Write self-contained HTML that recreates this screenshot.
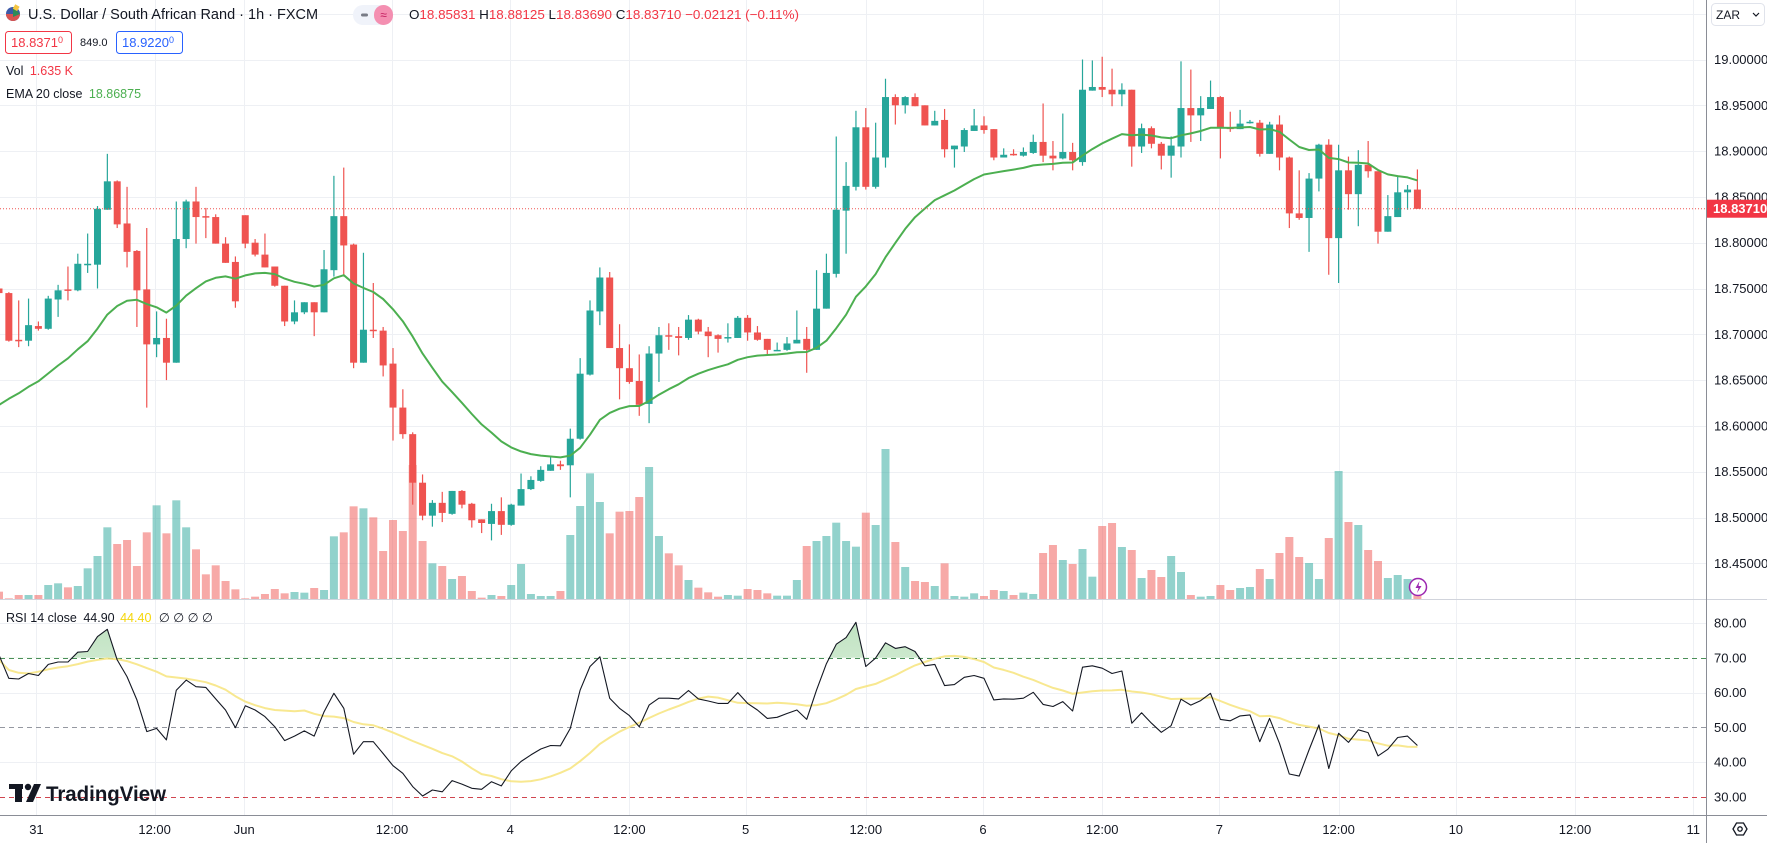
<!DOCTYPE html>
<html><head><meta charset="utf-8"><title>USDZAR 1h</title>
<style>
html,body{margin:0;padding:0;background:#fff;}
svg{display:block;font-family:"Liberation Sans",Arial,sans-serif;}
</style></head>
<body>
<svg id="chart" width="1767" height="843" viewBox="0 0 1767 843" xmlns="http://www.w3.org/2000/svg">
  <defs>
    <linearGradient id="obGrad" x1="0" y1="0" x2="0" y2="1">
      <stop offset="0" stop-color="#4caf50" stop-opacity="0.35"/>
      <stop offset="1" stop-color="#4caf50" stop-opacity="0.03"/>
    </linearGradient>
    <linearGradient id="osGrad" x1="0" y1="0" x2="0" y2="1">
      <stop offset="0" stop-color="#f23645" stop-opacity="0.03"/>
      <stop offset="1" stop-color="#f23645" stop-opacity="0.3"/>
    </linearGradient>
    <clipPath id="mainClip"><rect x="0" y="0" width="1706" height="599"/></clipPath>
    <clipPath id="obClip"><rect x="0" y="600" width="1706" height="58"/></clipPath>
    <clipPath id="osClip"><rect x="0" y="797" width="1706" height="18"/></clipPath>
  </defs>
  <g id="grid"></g>
  <g id="volume" clip-path="url(#mainClip)"></g>
  <g id="candles" clip-path="url(#mainClip)"></g>
  <g id="ema"></g>
  <g id="rsi"></g>
  <g id="axes"></g>

  <!-- header -->
  <g>
    <g>
      <circle cx="13" cy="14" r="7" fill="#3c5aa8"/>
      <path d="M6,14 a7,7 0 0 0 14,0 z" fill="#d9534f"/>
      <path d="M13,7 l7,7 l-7,3 z" fill="#2e8b57"/>
      <rect x="14" y="5" width="5" height="5" fill="#f5c542" transform="rotate(30 16 7)"/>
    </g>
    <text x="28" y="19" font-size="14.5" fill="#131722">U.S. Dollar / South African Rand · 1h · FXCM</text>
    <g>
      <rect x="353" y="5" width="40" height="20" rx="10" fill="#f0f3fa"/>
      <rect x="374" y="5" width="19" height="20" rx="9.5" fill="#f48fb1"/>
      <rect x="361" y="13.5" width="7" height="3" rx="1.5" fill="#787b86"/>
      <text x="383.5" y="19" font-size="12" fill="#c2185b" text-anchor="middle">≈</text>
    </g>
    <text x="409" y="19" font-size="13" fill="#f23645" textLength="390" lengthAdjust="spacingAndGlyphs"><tspan fill="#131722">O</tspan>18.85831 <tspan fill="#131722">H</tspan>18.88125 <tspan fill="#131722">L</tspan>18.83690 <tspan fill="#131722">C</tspan>18.83710 −0.02121 (−0.11%)</text>
    <g>
      <rect x="5.5" y="31.5" width="66" height="22" rx="3" fill="#fff" stroke="#f23645"/>
      <text x="11" y="47" font-size="13" fill="#f23645">18.8371<tspan font-size="9" dy="-4">0</tspan></text>
    </g>
    <text x="80" y="46" font-size="11" fill="#131722">849.0</text>
    <g>
      <rect x="116.5" y="31.5" width="66" height="22" rx="3" fill="#fff" stroke="#2962ff"/>
      <text x="122" y="47" font-size="13" fill="#2962ff">18.9220<tspan font-size="9" dy="-4">0</tspan></text>
    </g>
    <text x="6" y="75" font-size="12.5" fill="#131722">Vol <tspan fill="#f23645" dx="3">1.635 K</tspan></text>
    <text x="6" y="98" font-size="12.5" fill="#131722">EMA 20 close <tspan fill="#4caf50" dx="3">18.86875</tspan></text>
    <text x="6" y="622" font-size="12.5" fill="#131722">RSI 14 close <tspan dx="3">44.90</tspan> <tspan fill="#f5d60a" dx="2">44.40</tspan> <tspan dx="4">∅</tspan> <tspan>∅</tspan> <tspan>∅</tspan> <tspan>∅</tspan></text>
  </g>

  <g>
    <rect x="9" y="784" width="14" height="5" fill="#131722"/>
    <rect x="15" y="784" width="7" height="18" fill="#131722"/>
    <circle cx="28" cy="787" r="3.2" fill="#131722"/>
    <polygon points="34,784 41,784 33,802 26,802" fill="#131722"/>
    <text x="46" y="801" font-size="21" font-weight="bold" fill="#131722" textLength="120" lengthAdjust="spacingAndGlyphs">TradingView</text>
  </g>

  <g>
    <circle cx="1418" cy="587" r="8.5" fill="#fff" stroke="#9c27b0" stroke-width="1.5"/>
    <path d="M1419.5,581 l-4,7 h3 l-1.5,5 l4.5,-7 h-3 z" fill="#9c27b0"/>
  </g>

  <g>
    <rect x="1711.5" y="3.5" width="53" height="22" rx="4" fill="#fff" stroke="#e0e3eb"/>
    <text x="1716" y="19" font-size="12" fill="#131722">ZAR</text>
    <path d="M1753,13 l3,3 l3,-3" fill="none" stroke="#131722" stroke-width="1.2"/>
  </g>
  <g>
    <polygon points="1733,829 1736.5,823 1743.5,823 1747,829 1743.5,835 1736.5,835" fill="none" stroke="#131722" stroke-width="1.3"/>
    <circle cx="1740" cy="829" r="2.2" fill="none" stroke="#131722" stroke-width="1.3"/>
  </g>
</svg>
<script>
// ---------------- data ----------------
const openP = [
18.750,18.745,18.694,18.693,18.709,18.706,18.738,18.749,18.748,18.776,
18.776,18.836,18.867,18.821,18.791,18.749,18.689,18.696,18.669,18.804,
18.845,18.829,18.828,18.799,18.779,18.830,18.800,18.787,18.774,18.753,
18.714,18.724,18.735,18.724,18.770,18.829,18.798,18.669,18.705,18.704,
18.668,18.620,18.591,18.538,18.502,18.516,18.504,18.529,18.515,18.498,
18.493,18.507,18.492,18.513,18.531,18.540,18.551,18.558,18.557,18.586,
18.656,18.725,18.762,18.685,18.663,18.649,18.624,18.679,18.699,18.698,
18.696,18.716,18.703,18.699,18.696,18.696,18.718,18.702,18.695,18.682,
18.683,18.690,18.695,18.683,18.728,18.766,18.835,18.861,18.926,18.861,
18.893,18.959,18.950,18.959,18.950,18.928,18.934,18.902,18.905,18.922,
18.928,18.924,18.893,18.897,18.895,18.898,18.910,18.895,18.892,18.899,
18.888,18.966,18.970,18.967,18.962,18.967,18.905,18.925,18.908,18.895,
18.905,18.947,18.939,18.946,18.959,18.926,18.924,18.931,18.931,18.897,
18.929,18.893,18.832,18.827,18.870,18.907,18.805,18.879,18.853,18.885,
18.878,18.812,18.828,18.855,18.858];
const highP = [
18.752,18.746,18.737,18.739,18.714,18.742,18.754,18.774,18.788,18.810,
18.840,18.897,18.868,18.861,18.792,18.816,18.725,18.717,18.845,18.847,
18.861,18.838,18.831,18.806,18.785,18.830,18.804,18.810,18.774,18.753,
18.737,18.735,18.735,18.792,18.873,18.882,18.799,18.789,18.756,18.708,
18.685,18.640,18.593,18.547,18.519,18.528,18.529,18.530,18.516,18.498,
18.515,18.522,18.515,18.548,18.545,18.556,18.566,18.562,18.597,18.674,
18.737,18.773,18.768,18.711,18.689,18.678,18.687,18.708,18.712,18.708,
18.721,18.717,18.708,18.700,18.712,18.720,18.721,18.709,18.695,18.691,
18.697,18.726,18.708,18.770,18.788,18.916,18.888,18.944,18.947,18.931,
18.979,18.962,18.960,18.963,18.950,18.944,18.946,18.906,18.925,18.946,
18.938,18.924,18.903,18.902,18.904,18.918,18.952,18.911,18.941,18.909,
19.000,18.999,19.003,18.990,18.974,18.967,18.930,18.927,18.910,18.916,
18.998,18.989,18.960,18.977,18.960,18.943,18.945,18.934,18.934,18.932,
18.939,18.894,18.879,18.876,18.908,18.913,18.907,18.894,18.901,18.911,
18.878,18.852,18.872,18.863,18.880];
const lowP = [
18.744,18.692,18.686,18.687,18.704,18.705,18.719,18.737,18.747,18.767,
18.750,18.836,18.816,18.773,18.708,18.620,18.675,18.650,18.669,18.794,
18.799,18.805,18.799,18.778,18.729,18.794,18.785,18.773,18.752,18.709,
18.711,18.722,18.698,18.724,18.763,18.763,18.663,18.669,18.696,18.654,
18.584,18.586,18.514,18.497,18.490,18.495,18.503,18.510,18.489,18.483,
18.475,18.481,18.491,18.513,18.530,18.539,18.551,18.552,18.522,18.585,
18.655,18.710,18.685,18.629,18.646,18.611,18.603,18.648,18.683,18.677,
18.694,18.700,18.675,18.680,18.691,18.696,18.693,18.693,18.677,18.682,
18.682,18.690,18.658,18.683,18.728,18.762,18.788,18.857,18.858,18.859,
18.882,18.929,18.941,18.949,18.928,18.928,18.893,18.882,18.899,18.922,
18.919,18.890,18.893,18.895,18.894,18.897,18.888,18.879,18.891,18.879,
18.884,18.966,18.959,18.949,18.949,18.883,18.898,18.903,18.880,18.871,
18.893,18.910,18.911,18.946,18.892,18.921,18.924,18.930,18.894,18.897,
18.879,18.816,18.825,18.790,18.856,18.765,18.756,18.836,18.818,18.871,
18.799,18.812,18.828,18.836,18.837];
const closeP = [
18.745,18.693,18.693,18.710,18.706,18.739,18.748,18.748,18.777,18.777,
18.837,18.867,18.820,18.790,18.748,18.689,18.696,18.669,18.804,18.845,
18.828,18.828,18.799,18.778,18.736,18.799,18.787,18.773,18.753,18.714,
18.724,18.735,18.724,18.771,18.829,18.797,18.669,18.705,18.704,18.666,
18.620,18.591,18.538,18.502,18.516,18.505,18.529,18.514,18.497,18.494,
18.507,18.492,18.514,18.531,18.541,18.552,18.558,18.556,18.586,18.657,
18.726,18.762,18.685,18.663,18.648,18.623,18.679,18.699,18.698,18.696,
18.716,18.703,18.698,18.695,18.697,18.718,18.702,18.694,18.683,18.683,
18.690,18.694,18.683,18.728,18.767,18.836,18.862,18.926,18.861,18.893,
18.959,18.950,18.959,18.949,18.928,18.933,18.902,18.906,18.923,18.928,
18.923,18.893,18.896,18.896,18.899,18.910,18.895,18.892,18.899,18.890,
18.967,18.970,18.967,18.962,18.967,18.905,18.925,18.908,18.895,18.906,
18.947,18.939,18.947,18.959,18.925,18.924,18.930,18.932,18.897,18.929,
18.893,18.832,18.827,18.870,18.907,18.805,18.879,18.853,18.885,18.878,
18.812,18.829,18.855,18.858,18.837];
const volumeK = [
2.5,0.5,1.5,1.5,1.5,4.5,5.0,3.8,4.2,9.5,
13.2,21.8,16.8,18.0,10.2,20.3,28.4,20.0,29.9,21.8,
15.2,7.7,10.4,5.7,3.2,0.5,1.0,1.8,3.3,2.0,
2.4,2.2,3.6,3.0,19.1,20.3,28.1,27.5,24.8,14.7,
24.0,20.7,40.5,17.7,11.0,10.2,6.3,7.2,2.7,0.7,
1.5,1.2,4.5,10.8,1.8,1.2,1.2,2.7,19.5,28.2,
38.0,29.4,20.0,26.5,26.7,30.9,39.9,19.2,14.0,10.4,
6.0,3.7,2.3,1.0,1.5,1.3,3.3,3.0,2.0,1.3,
1.3,6.0,16.2,17.7,19.2,23.2,17.7,16.0,26.2,22.5,
45.3,17.4,9.9,5.7,5.4,4.2,11.0,1.2,1.0,2.0,
1.2,3.0,2.7,1.5,2.2,1.8,14.1,16.5,12.0,10.8,
15.3,7.0,22.2,23.1,15.9,15.0,6.6,9.0,6.9,13.2,
8.4,1.5,1.0,1.2,4.5,3.0,3.6,3.9,9.3,6.3,
14.1,18.9,12.9,11.1,6.3,18.6,38.7,23.4,22.5,15.0,
11.7,6.6,7.5,6.3,1.6];
const rsiValues = [
70.8,64.1,63.9,65.5,64.9,68.1,68.8,68.8,71.6,71.8,
76.1,78.2,69.4,64.6,57.9,48.8,49.7,46.4,60.7,63.6,
61.7,61.5,58.2,55.0,49.9,56.2,55.0,53.1,50.2,46.2,
47.5,49.0,47.5,54.5,59.8,55.5,42.3,45.9,45.9,42.5,
39.0,36.8,33.0,30.3,32.0,31.5,34.7,33.7,32.5,32.2,
34.4,33.2,37.5,40.2,42.1,43.8,44.8,44.7,49.7,60.7,
67.5,70.3,58.4,55.5,53.4,50.2,56.4,58.4,58.4,58.2,
60.6,58.2,57.6,56.9,56.9,60.0,56.9,55.0,52.6,52.9,
54.0,55.0,52.3,60.7,68.3,73.9,75.8,80.2,67.5,69.9,
74.3,72.7,73.2,71.8,67.7,68.1,62.0,62.3,64.4,64.9,
64.1,57.9,58.2,58.1,58.4,60.1,56.6,56.0,57.4,54.7,
67.3,67.7,67.0,65.5,66.2,51.2,54.2,51.2,48.6,50.5,
58.1,56.4,57.7,59.8,52.3,51.9,53.3,53.6,45.9,52.6,
45.4,36.6,36.0,43.5,50.7,38.2,48.3,45.7,49.3,48.5,
41.8,43.7,47.1,47.5,44.8];
const rsiMaHead = [69.4,66.5,65.7,65.5,66.0,66.7,67.2,67.6,68.2,68.9,69.4,69.8,69.6];
const emaStart = 18.610;
const priceTicks = [19.05,19.00,18.95,18.90,18.85,18.80,18.75,18.70,18.65,18.60,18.55,18.50,18.45];
const priceTickLabels = ["","19.00000","18.95000","18.90000","18.85000","18.80000","18.75000","18.70000","18.65000","18.60000","18.55000","18.50000","18.45000"];
const rsiTicks = [80,70,60,50,40,30];
const rsiTickLabels = ["80.00","70.00","60.00","50.00","40.00","30.00"];
const timeLabels = ["31","12:00","Jun","12:00","4","12:00","5","12:00","6","12:00","7","12:00","10","12:00","11"];
const timeSlots = [3.8,15.8,24.9,39.9,51.9,64.0,75.8,88.0,99.9,112.0,123.9,136.0,147.9,160.0,172.0];
const lastPrice = 18.83710;

// ---------------- scales ----------------
const NS='http://www.w3.org/2000/svg';
const PANE_R = 1706;
const xOf = k => -1 + k*9.85;
const yP = p => 59.5 + (19.0 - p)/0.05*45.8;
const yR = v => 623 + (80 - v)*3.48;
const yV = v => 600 - v*(10/3);
const UP='#26a69a', DN='#ef5350';
function mk(tag, attrs, parent){
  const e=document.createElementNS(NS,tag);
  for(const k in attrs) e.setAttribute(k,attrs[k]);
  parent.appendChild(e); return e;
}
const gGrid=document.getElementById('grid');
const gVol=document.getElementById('volume');
const gC=document.getElementById('candles');
const gE=document.getElementById('ema');
const gR=document.getElementById('rsi');
const gA=document.getElementById('axes');

// ---------------- grid ----------------
priceTicks.forEach((p,i)=>{
  const y=Math.round(yP(p))+0.5;
  const l=mk('line',{x1:0,x2:PANE_R,y1:y,y2:y,stroke:'#eef0f4','stroke-width':1},gGrid);
  
  
});
[80,60,40].forEach(v=>{
  const y=Math.round(yR(v))+0.5;
  const l=mk('line',{x1:0,x2:PANE_R,y1:y,y2:y,stroke:'#eef0f4'},gGrid);
  
  
});
timeSlots.forEach((s,i)=>{
  const x=Math.round(xOf(s))+0.5;
  const l=mk('line',{x1:x,x2:x,y1:0,y2:815,stroke:'#eef0f4'},gGrid);
  
  
});

// ---------------- volume ----------------
volumeK.forEach((v,k)=>{
  const up=closeP[k]>=openP[k];
  const y=yV(v);
  const r=mk('rect',{x:xOf(k)-4,y:y,width:8,height:600-y,fill:up?'rgba(38,166,154,0.5)':'rgba(239,83,80,0.5)'},gVol);
  
  
});

// ---------------- candles ----------------
openP.forEach((o,k)=>{
  const c=closeP[k], up=c>=o, col=up?UP:DN, x=xOf(k);
  const g=mk('g',{},gC);
  
  
  mk('line',{x1:x,x2:x,y1:yP(highP[k]),y2:yP(lowP[k]),stroke:col,'stroke-width':1.2},g);
  const yt=yP(Math.max(o,c)), yb=yP(Math.min(o,c));
  mk('rect',{x:x-3.5,y:yt,width:7,height:Math.max(1.5,yb-yt),fill:col},g);
});

// ---------------- EMA ----------------
const alpha=2/21;
let ema=emaStart; const emaPts=[];
closeP.forEach((c,k)=>{ ema=c*alpha+ema*(1-alpha); emaPts.push(xOf(k).toFixed(1)+','+yP(ema).toFixed(1)); });
const emaLine=mk('polyline',{points:emaPts.join(' '),fill:'none',stroke:'#4caf50','stroke-width':2,'stroke-linejoin':'round'},gE);



// current price line
const cpl=mk('line',{x1:0,x2:PANE_R,y1:yP(lastPrice),y2:yP(lastPrice),stroke:'#ef5350','stroke-width':1,'stroke-dasharray':'1 2'},gE);



// ---------------- RSI ----------------
const sep=mk('line',{x1:0,x2:1767,y1:599.5,y2:599.5,stroke:'#d1d4dc'},gR);


[[70,'#4a8f58'],[50,'#9598a1'],[30,'#d0454f']].forEach(([v,col])=>{
  const y=Math.round(yR(v))+0.5;
  const l=mk('line',{x1:0,x2:PANE_R,y1:y,y2:y,stroke:col,'stroke-dasharray':'5 4'},gR);
  
  
});
const rsiPts=rsiValues.map((v,k)=>xOf(k).toFixed(1)+','+yR(v).toFixed(1));
const n=rsiValues.length;
const ob=mk('polygon',{points:rsiPts.join(' ')+' '+xOf(n-1)+','+yR(70)+' '+xOf(0)+','+yR(70),fill:'url(#obGrad)','clip-path':'url(#obClip)'},gR);


const os=mk('polygon',{points:rsiPts.join(' ')+' '+xOf(n-1)+','+yR(30)+' '+xOf(0)+','+yR(30),fill:'url(#osGrad)','clip-path':'url(#osClip)'},gR);


// RSI MA (SMA 14)
const maPts=[];
rsiValues.forEach((v,k)=>{
  let m;
  if(k<13) m=rsiMaHead[k];
  else { let s=0; for(let j=k-13;j<=k;j++) s+=rsiValues[j]; m=s/14; }
  maPts.push(xOf(k).toFixed(1)+','+yR(m).toFixed(1));
});
const ma=mk('polyline',{points:maPts.join(' '),fill:'none',stroke:'#f7e47c','stroke-width':2,'stroke-opacity':0.85,'stroke-linejoin':'round'},gR);


const rl=mk('polyline',{points:rsiPts.join(' '),fill:'none',stroke:'#131722','stroke-width':1.1,'stroke-linejoin':'round'},gR);



// ---------------- axes ----------------
const ax=mk('line',{x1:1706.5,x2:1706.5,y1:0,y2:843,stroke:'#8a8d96'},gA);


const tx=mk('line',{x1:0,x2:1767,y1:815.5,y2:815.5,stroke:'#8a8d96'},gA);


priceTicks.forEach((p,i)=>{
  if(!priceTickLabels[i]) return;
  const t=mk('text',{x:1714,y:yP(p)+4.5,'font-size':13,fill:'#131722'},gA);
  
  
  t.textContent=priceTickLabels[i];
});
rsiTicks.forEach((v,i)=>{
  const t=mk('text',{x:1714,y:yR(v)+4.5,'font-size':13,fill:'#131722'},gA);
  
  
  t.textContent=rsiTickLabels[i];
});
timeSlots.forEach((s,i)=>{
  const t=mk('text',{x:xOf(s),y:834,'font-size':13,fill:'#131722','text-anchor':'middle'},gA);
  
  
  t.textContent=timeLabels[i];
});
const plb=mk('g',{},gA);


mk('rect',{x:1707,y:yP(lastPrice)-9,width:60,height:18,fill:'#f23645'},plb);
const plt=mk('text',{x:1713,y:yP(lastPrice)+4.5,'font-size':13,'font-weight':'bold',fill:'#fff'},plb);
plt.textContent=lastPrice.toFixed(5);
</script>
</body></html>
